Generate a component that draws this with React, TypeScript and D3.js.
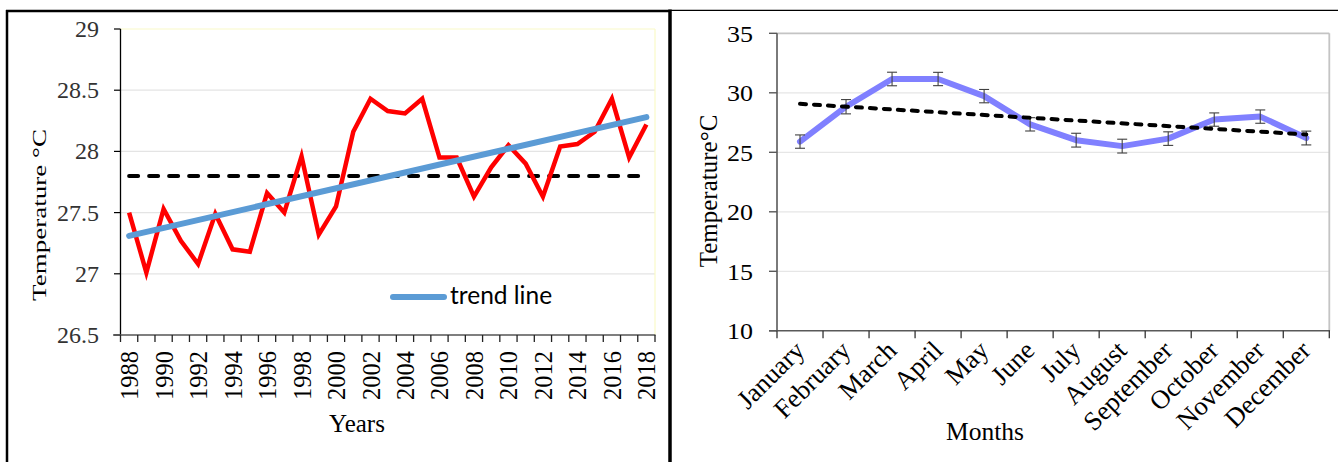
import React from "react";
import * as d3 from "d3";

const years = d3.range(1988, 2019).map(String);
const annualTemp = [27.5, 27.01, 27.53, 27.27, 27.08, 27.49, 27.2, 27.18, 27.66, 27.5, 27.96, 27.32, 27.55, 28.16, 28.43, 28.33, 28.31, 28.43, 27.95, 27.95, 27.63, 27.87, 28.05, 27.9, 27.63, 28.04, 28.06, 28.16, 28.43, 27.95, 28.22];
const annualMean = 27.8;
const annualTrend = [27.31, 28.28];
const leftTicks = [26.5, 27, 27.5, 28, 28.5, 29];

const months = ["January", "February", "March", "April", "May", "June", "July", "August", "September", "October", "November", "December"];
const monthlyTemp = [25.9, 28.83, 31.16, 31.16, 29.72, 27.35, 26.02, 25.52, 26.15, 27.75, 28.0, 26.2];
const monthlyErr = [0.56, 0.6, 0.57, 0.56, 0.56, 0.56, 0.58, 0.58, 0.57, 0.56, 0.56, 0.58];
const monthlyTrend = [29.07, 26.5];
const rightTicks = [10, 15, 20, 25, 30, 35];

const serif = "'Liberation Serif', 'Times New Roman', serif";

export default function App() {
  // Left chart scales
  const xL = d3.scaleBand<string>().domain(years).range([120.5, 655]);
  const yL = d3.scaleLinear().domain([26.5, 29]).range([335, 29]);
  const cxL = (y: string) => (xL(y) as number) + xL.bandwidth() / 2;
  const redLine = d3
    .line<number>()
    .x((_, i) => cxL(years[i]))
    .y((d) => yL(d))(annualTemp) as string;

  // Right chart scales
  const xR = d3.scaleBand<string>().domain(months).range([777, 1329.3]);
  const yR = d3.scaleLinear().domain([10, 35]).range([330.8, 33.3]);
  const cxR = (m: string) => (xR(m) as number) + xR.bandwidth() / 2;
  const blueLine = d3
    .line<number>()
    .x((_, i) => cxR(months[i]))
    .y((d) => yR(d))(monthlyTemp) as string;

  const leftBoundaries = d3.range(years.length + 1).map((i) => 120.5 + i * xL.bandwidth());
  const rightBoundaries = d3.range(months.length + 1).map((i) => 777 + i * xR.bandwidth());

  return (
    <svg
      width={1338}
      height={462}
      style={{ position: "absolute", left: 0, top: 0, background: "#fff" }}
      fontFamily={serif}
    >
      {/* Panel frames */}
      <line x1={7} y1={462} x2={7} y2={10} stroke="#000" strokeWidth={2.5} />
      <line x1={6} y1={11} x2={670} y2={11} stroke="#000" strokeWidth={2.5} />
      <line x1={670} y1={9.5} x2={670} y2={462} stroke="#000" strokeWidth={3.5} />
      <line x1={670} y1={10.3} x2={1338} y2={10.3} stroke="#000" strokeWidth={1.3} />

      {/* ---------- Left chart ---------- */}
      {leftTicks.slice(1, -1).map((t) => (
        <line key={t} x1={120.5} x2={655} y1={yL(t)} y2={yL(t)} stroke="#e4e4e4" strokeWidth={1.3} />
      ))}
      <line x1={120.5} x2={655} y1={yL(29)} y2={yL(29)} stroke="#fafac8" strokeWidth={1.2} />
      <line x1={655} x2={655} y1={yL(29)} y2={yL(26.5)} stroke="#fafac8" strokeWidth={1.2} />
      {/* y axis */}
      <line x1={120.5} x2={120.5} y1={yL(29)} y2={yL(26.5)} stroke="#000" strokeWidth={1.3} />
      {leftTicks.map((t) => (
        <g key={t}>
          <line x1={114} x2={120.5} y1={yL(t)} y2={yL(t)} stroke="#000" strokeWidth={1.2} />
          <text x={99} y={yL(t) + 8} textAnchor="end" fontSize={24} fill="#333">
            {t}
          </text>
        </g>
      ))}
      {/* x axis */}
      <line x1={113} x2={655.5} y1={yL(26.5)} y2={yL(26.5)} stroke="#555" strokeWidth={1.5} />
      {leftBoundaries.map((b, i) => (
        <line key={i} x1={b} x2={b} y1={yL(26.5)} y2={yL(26.5) + 7} stroke="#222" strokeWidth={1.3} />
      ))}
      {years.map((y, i) =>
        i % 2 === 0 ? (
          <text
            key={y}
            transform={`translate(${cxL(y) + 9},${351}) rotate(-90)`}
            textAnchor="end"
            fontSize={24.5}
            fill="#000"
          >
            {y}
          </text>
        ) : null
      )}
      <text x={357} y={432} textAnchor="middle" fontSize={25} fill="#000">
        Years
      </text>
      <text
        transform={`translate(${46},${215}) rotate(-90)`}
        textAnchor="middle"
        fontSize={19}
        textLength={172}
        lengthAdjust="spacingAndGlyphs"
        fill="#000"
      >
        Temperature °C
      </text>

      {/* Series */}
      <line
        x1={cxL(years[0])}
        x2={cxL(years[years.length - 1])}
        y1={yL(annualMean)}
        y2={yL(annualMean)}
        stroke="#000"
        strokeWidth={4}
        strokeDasharray="9 11"
        strokeLinecap="round"
      />
      <path d={redLine} fill="none" stroke="#ff0000" strokeWidth={4.5} strokeLinejoin="miter" />
      <line
        x1={cxL(years[0])}
        x2={cxL(years[years.length - 1])}
        y1={yL(annualTrend[0])}
        y2={yL(annualTrend[1])}
        stroke="#5b9bd5"
        strokeWidth={6}
        strokeLinecap="round"
      />
      {/* Legend */}
      <line x1={393} x2={444} y1={297} y2={297} stroke="#5b9bd5" strokeWidth={6} strokeLinecap="round" />
      <text x={450} y={304} fontSize={24.5} fontFamily="'Lato', 'Open Sans', sans-serif" fill="#000">
        trend line
      </text>

      {/* ---------- Right chart ---------- */}
      {rightTicks.slice(1, -1).map((t) => (
        <line key={t} x1={777} x2={1329.3} y1={yR(t)} y2={yR(t)} stroke="#e6e6e6" strokeWidth={1.3} />
      ))}
      <line x1={777} x2={1329.3} y1={yR(35)} y2={yR(35)} stroke="#c4c4c4" strokeWidth={1.8} />
      <line x1={1329.3} x2={1329.3} y1={yR(35)} y2={yR(10)} stroke="#c4c4c4" strokeWidth={1.8} />
      <line x1={777} x2={777} y1={yR(35)} y2={yR(10)} stroke="#595959" strokeWidth={1.6} />
      {rightTicks.map((t) => (
        <g key={t}>
          <line x1={769} x2={777} y1={yR(t)} y2={yR(t)} stroke="#595959" strokeWidth={1.4} />
          <text
            x={753}
            y={yR(t) + 8.5}
            textAnchor="end"
            fontSize={24}
            textLength={26}
            lengthAdjust="spacingAndGlyphs"
            fill="#000"
          >
            {t}
          </text>
        </g>
      ))}
      <line x1={769} x2={1330} y1={yR(10)} y2={yR(10)} stroke="#595959" strokeWidth={1.6} />
      {rightBoundaries.map((b, i) => (
        <line key={i} x1={b} x2={b} y1={yR(10)} y2={yR(10) + 7.5} stroke="#333" strokeWidth={1.3} />
      ))}
      {months.map((m) => (
        <text
          key={m}
          transform={`translate(${cxR(m) + 6},${352}) rotate(-45)`}
          textAnchor="end"
          fontSize={26.5}
          fill="#000"
        >
          {m}
        </text>
      ))}
      <text x={985} y={440} textAnchor="middle" fontSize={25.5} fill="#000">
        Months
      </text>
      <text
        transform={`translate(${717},${191}) rotate(-90)`}
        textAnchor="middle"
        fontSize={25}
        fill="#000"
      >
        Temperature°C
      </text>

      <path d={blueLine} fill="none" stroke="#8080ff" strokeWidth={6} strokeLinejoin="round" strokeLinecap="round" />
      {months.map((m, i) => {
        const cx = cxR(m);
        const top = yR(monthlyTemp[i] + monthlyErr[i]);
        const bot = yR(monthlyTemp[i] - monthlyErr[i]);
        return (
          <g key={m} stroke="#404040" strokeWidth={1.1}>
            <line x1={cx} x2={cx} y1={top} y2={bot} />
            <line x1={cx - 5} x2={cx + 5} y1={top} y2={top} />
            <line x1={cx - 5} x2={cx + 5} y1={bot} y2={bot} />
          </g>
        );
      })}
      <line
        x1={cxR(months[0])}
        x2={cxR(months[months.length - 1])}
        y1={yR(monthlyTrend[0])}
        y2={yR(monthlyTrend[1])}
        stroke="#000"
        strokeWidth={4}
        strokeDasharray="6 8"
        strokeLinecap="round"
      />
    </svg>
  );
}
